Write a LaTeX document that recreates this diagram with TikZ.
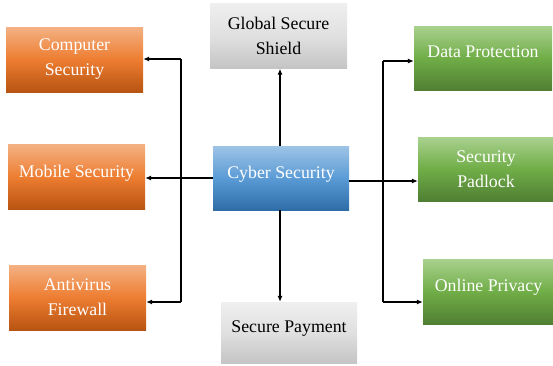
\documentclass[tikz,border=0pt]{standalone}
\usepackage{fontspec}
\setmainfont{Liberation Serif}
\usetikzlibrary{arrows.meta}
\definecolor{orTop}{HTML}{F4B183}
\definecolor{orMid}{HTML}{ED7D31}
\definecolor{orBot}{HTML}{B85412}
\definecolor{blTop}{HTML}{9DC3E6}
\definecolor{blMid}{HTML}{5B9BD5}
\definecolor{blBot}{HTML}{2E6DA8}
\definecolor{grTop}{HTML}{A9D18E}
\definecolor{grMid}{HTML}{70AD47}
\definecolor{grBot}{HTML}{507F33}
\definecolor{gyTop}{HTML}{EFEFEF}
\definecolor{gyMid}{HTML}{E0E0E0}
\definecolor{gyBot}{HTML}{C4C4C4}
\tikzset{
  box/.style={minimum width=137pt, minimum height=65pt, inner sep=0pt,
    align=center, font=\fontsize{17.8}{25}\selectfont},
  oneline/.style={text depth=12pt},
  orangebox/.style={box, top color=orTop, bottom color=orBot, middle color=orMid, text=white},
  bluebox/.style={box, top color=blTop, bottom color=blBot, middle color=blMid, text=white},
  greenbox/.style={box, top color=grTop, bottom color=grBot, middle color=grMid, text=white},
  greybox/.style={box, top color=gyTop, bottom color=gyBot, middle color=gyMid, text=black},
  link/.style={line width=1.1pt, -{Latex[length=6pt,width=5pt]}}
}
\begin{document}
\begin{tikzpicture}[x=1pt, y=-1pt]
  \useasboundingbox (0,0) rectangle (553,365);
  % left column
  \node[orangebox] (comp) at (74.5,59.5) {Computer\\Security};
  \node[orangebox, oneline] (mob) at (76.5,177) {Mobile Security};
  \node[orangebox] (anti) at (77.5,297.5) {Antivirus\\Firewall};
  % centre column
  \node[greybox] (shield) at (278.5,36) {Global Secure\\Shield};
  \node[bluebox, oneline, minimum width=136pt, minimum height=64pt] (cyber) at (281,178) {Cyber Security};
  \node[greybox, oneline, minimum width=136pt, minimum height=61pt] (pay) at (289,332.5) {Secure Payment};
  % right column
  \node[greenbox, oneline, minimum width=138pt, minimum height=64pt] (data) at (483,58) {Data Protection};
  \node[greenbox, minimum width=136pt, minimum height=64pt] (pad) at (486,169) {Security\\Padlock};
  \node[greenbox, oneline, minimum width=131pt, minimum height=65pt] (priv) at (488.5,291.5) {Online Privacy};
  % junction points of the elbow connectors
  \coordinate (lt) at (181,59);
  \coordinate (lb) at (181,302);
  \coordinate (rt) at (383,61);
  \coordinate (rb) at (383,302);
  % connectors
  \draw[link] (cyber.west) -- (mob.east |- cyber.west);
  \draw[link] (lt) -- (comp.east |- lt);
  \draw[link] (lb) -- (anti.east |- lb);
  \draw[line width=1.1pt] (lt) -- (lb);
  \draw[link] (cyber.north -| 280,0) -- (shield.south -| 280,0);
  \draw[link] (cyber.south -| 280,0) -- (pay.north -| 280,0);
  \draw[link] (cyber.east |- 0,181) -- (pad.west |- 0,181);
  \draw[line width=1.1pt] (rt) -- (rb);
  \draw[link] (rt) -- (data.west |- rt);
  \draw[link] (rb) -- (priv.west |- rb);
\end{tikzpicture}
\end{document}
